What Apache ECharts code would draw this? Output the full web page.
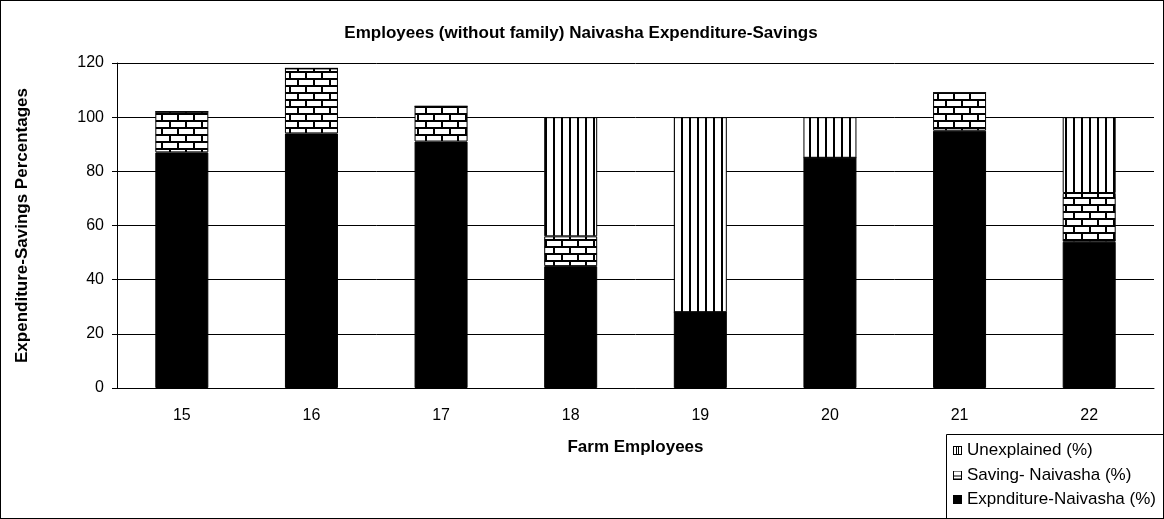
<!DOCTYPE html>
<html>
<head>
<meta charset="utf-8">
<script src="https://cdn.jsdelivr.net/npm/echarts@6/dist/echarts.min.js"></script>
<style>
  html, body { margin: 0; padding: 0; background: #fff; }
  #chart { width: 1164px; height: 519px; box-sizing: border-box; border: 1px solid #000; }
</style>
</head>
<body>
<div id="chart"></div>
<script>
// Farm employees on the category axis
const employees = ['15', '16', '17', '18', '19', '20', '21', '22'];
// Percentages per employee
const expenditure = [87, 94, 91, 45, 28, 85, 95, 54];
const saving      = [15, 24, 13, 11, 0, 0, 14, 18];
const unexplained = [0, 0, 0, 44, 72, 15, 0, 28];
const seriesNames = ['Expnditure-Naivasha (%)', 'Saving- Naivasha (%)', 'Unexplained (%)'];

function makeCanvas(w, h) {
  const c = document.createElement('canvas');
  c.width = w; c.height = h;
  return c;
}
// Brick hatch tile
function brickPattern() {
  const c = makeCanvas(16, 14);
  const g = c.getContext('2d');
  g.fillStyle = '#fff'; g.fillRect(0, 0, 16, 14);
  g.fillStyle = '#000';
  g.fillRect(0, 0, 16, 2);
  g.fillRect(0, 7, 16, 2);
  g.fillRect(0, 0, 2, 7);
  g.fillRect(8, 7, 2, 7);
  return c;
}
// Vertical stripe tile
function stripePattern() {
  const c = makeCanvas(8, 8);
  const g = c.getContext('2d');
  g.fillStyle = '#fff'; g.fillRect(0, 0, 8, 8);
  g.fillStyle = '#000';
  g.fillRect(0, 0, 2, 8);
  return c;
}
// Small legend swatches
function swatch(kind) {
  const c = makeCanvas(9, 9);
  const g = c.getContext('2d');
  g.fillStyle = '#000'; g.fillRect(0, 0, 9, 9);
  if (kind !== 'solid') {
    g.fillStyle = '#fff'; g.fillRect(1, 1, 7, 7);
    g.fillStyle = '#000';
    if (kind === 'stripe') { g.fillRect(3, 1, 1, 7); g.fillRect(5, 1, 1, 7); }
    if (kind === 'brick') { g.fillRect(1, 5, 7, 1); }
  }
  return 'image://' + c.toDataURL();
}

const chart = echarts.init(document.getElementById('chart'), null, { renderer: 'canvas' });
const font = 'Liberation Sans, Arial, sans-serif';
const barStyle = (fill) => ({ color: fill, borderColor: '#000', borderWidth: 1 });

chart.setOption({
  animation: false,
  textStyle: { fontFamily: font, color: '#000' },
  title: {
    text: 'Employees (without family) Naivasha Expenditure-Savings',
    left: 575, top: 19, textAlign: 'center',
    textStyle: { fontFamily: font, fontSize: 17, fontWeight: 'bold', color: '#000' }
  },
  grid: { left: 116, right: 9, top: 62, bottom: 130 },
  // Legend frame, running off the lower right corner
  graphic: [{
    type: 'rect', left: 945, top: 433, z: 0,
    shape: { width: 240, height: 100 },
    style: { fill: '#fff', stroke: '#000', lineWidth: 1 }
  }],
  legend: {
    orient: 'vertical',
    left: 952, top: 441,
    padding: 0,
    z: 10,
    itemWidth: 9, itemHeight: 9, itemGap: 7.5,
    data: [
      { name: 'Unexplained (%)', icon: swatch('stripe') },
      { name: 'Saving- Naivasha (%)', icon: swatch('brick') },
      { name: 'Expnditure-Naivasha (%)', icon: swatch('solid') }
    ],
    textStyle: { fontFamily: font, fontSize: 17, lineHeight: 17, color: '#000' }
  },
  xAxis: {
    type: 'category',
    data: employees,
    name: 'Farm Employees',
    nameLocation: 'middle',
    nameGap: 51,
    nameTextStyle: { fontFamily: font, fontSize: 17, fontWeight: 'bold', color: '#000' },
    axisLine: { lineStyle: { color: '#000', width: 1 } },
    axisTick: { length: 5, lineStyle: { color: '#000' } },
    axisLabel: { fontFamily: font, fontSize: 16, color: '#000', margin: 20 }
  },
  yAxis: {
    type: 'value',
    min: 0, max: 120, interval: 20,
    name: 'Expenditure-Savings Percentages',
    nameLocation: 'middle',
    nameGap: 86,
    nameTextStyle: { fontFamily: font, fontSize: 17, fontWeight: 'bold', color: '#000' },
    axisLine: { show: true, lineStyle: { color: '#000', width: 1 } },
    axisTick: { show: true, length: 5, lineStyle: { color: '#000' } },
    axisLabel: { fontFamily: font, fontSize: 16, color: '#000', margin: 13 },
    splitLine: { lineStyle: { color: '#000', width: 1 } }
  },
  series: [
    { name: seriesNames[0], type: 'bar', stack: 'total', barWidth: 53, data: expenditure, itemStyle: barStyle('#000') },
    { name: seriesNames[1], type: 'bar', stack: 'total', barWidth: 53, data: saving, itemStyle: barStyle({ image: brickPattern(), repeat: 'repeat' }) },
    { name: seriesNames[2], type: 'bar', stack: 'total', barWidth: 53, data: unexplained, itemStyle: barStyle({ image: stripePattern(), repeat: 'repeat' }) }
  ]
});
</script>
</body>
</html>
